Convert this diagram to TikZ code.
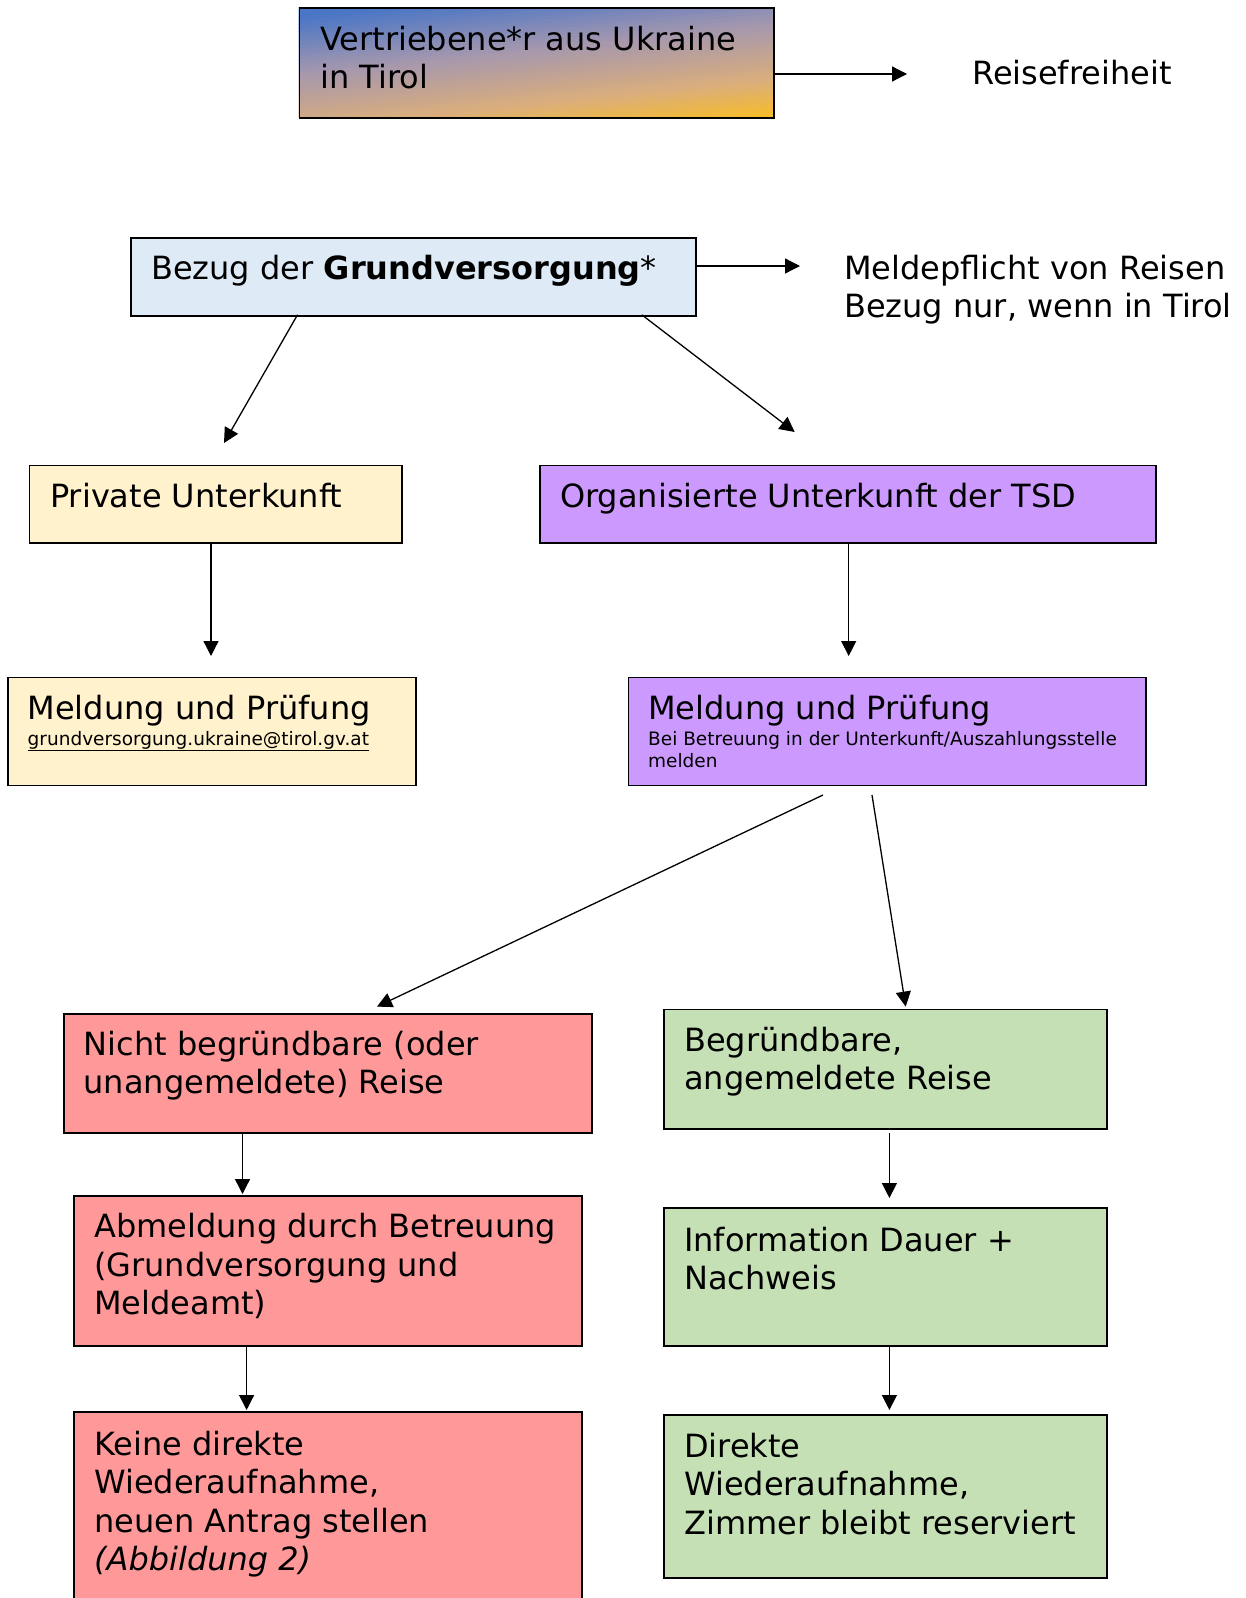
\documentclass[tikz,border=0pt]{standalone}
\usepackage{fontspec}
\setmainfont{DejaVu Sans}
\usetikzlibrary{arrows.meta}
\newcommand\bigf{\fontsize{32}{38.5}\selectfont}
\newcommand\smallf{\fontsize{18.5}{22.4}\selectfont}
\definecolor{gA}{HTML}{4A76C6}
\definecolor{gM}{HTML}{A597AE}
\definecolor{gT}{HTML}{DBAE7C}
\definecolor{gG}{HTML}{FFC010}
\definecolor{bezugC}{HTML}{DEEAF6}
\definecolor{privC}{HTML}{FFF2CC}
\definecolor{purpC}{HTML}{CC99FF}
\definecolor{redC}{HTML}{FF9999}
\definecolor{greenC}{HTML}{C5E0B4}
% gradient segment: s0, s1, colour A, colour B
\newcommand\gradseg[4]{%
  \foreach \i in {0,...,15} {
    \pgfmathsetmacro\ya{-79.65+159.3*(#1+(#2-#1)*\i/16)}
    \pgfmathsetmacro\yb{\ya+159.3*(#2-#1)/16+0.8}
    \pgfmathtruncatemacro\pc{100*(\i+0.5)/16}
    \fill[#4!\pc!#3] (-400,\ya) rectangle (400,\yb);
  }%
}
\tikzset{
  boxline/.style={draw=black, line width=1.8pt},
  txt/.style={inner sep=0pt, anchor=base west, align=left, font=\bigf},
  smalltxt/.style={inner sep=0pt, anchor=base west, align=left, font=\smallf},
  conn/.style={line width=1.3pt, -{Triangle[length=15pt, width=15pt]}},
}
\begin{document}
\begin{tikzpicture}[x=1pt, y=-1pt]
\useasboundingbox (0,0) rectangle (1245,1598);

% top gradient box
\begin{scope}
  \clip (298.5,7) rectangle (773,117);
  \begin{scope}[shift={(635.75,62)}, rotate=6]
    \fill[gA] (-400,-200) rectangle (400,-79.2);
    \fill[gG] (-400,79.2) rectangle (400,200);
    \gradseg{0}{0.35}{gA}{gM}
    \gradseg{0.35}{0.7}{gM}{gT}
    \gradseg{0.7}{1.0}{gT}{gG}
  \end{scope}
\end{scope}
\node[boxline, inner sep=0pt, minimum width=474.5pt, minimum height=110pt, anchor=north west] (top) at (298.5,7) {};
\node[txt] (toptxt) at (320,88.5) {Vertriebene*r aus Ukraine\\in Tirol};
\node[txt] (reise) at (972,84) {Reisefreiheit};
\coordinate (topE) at (773,74);
\coordinate (reiseA) at (907,74);
\draw[conn] (topE) -- (reiseA);

% Bezug
\node[boxline, fill=bezugC, inner sep=0pt, minimum width=564.4pt, minimum height=77.4pt, anchor=north west] (bezug) at (130.4,237.4) {};
\node[txt] (bezugtxt) at (151,279) {Bezug der \textbf{Grundversorgung}*};
\node[txt] (melde) at (844,317.5) {Meldepflicht von Reisen\\Bezug nur, wenn in Tirol};
\coordinate (meldeA) at (800,266);
\coordinate (bezugE) at (694.8,266);
\draw[conn] (bezugE) -- (meldeA);

% Private / Organisierte
\node[boxline, fill=privC, inner sep=0pt, minimum width=372.9pt, minimum height=77.4pt, anchor=north west] (priv) at (28.5,464.6) {};
\node[txt] (privtxt) at (50,507) {Private Unterkunft};
\node[boxline, fill=purpC, inner sep=0pt, minimum width=616.3pt, minimum height=77.4pt, anchor=north west] (org) at (539,464.6) {};
\node[txt] (orgtxt) at (560,507) {Organisierte Unterkunft der TSD};

\coordinate (b1s) at (297.5,314.8);
\coordinate (b1e) at (224,443);
\coordinate (b2s) at (641.8,314.8);
\coordinate (b2e) at (794.7,432);
\draw[conn] (b1s) -- (b1e);
\draw[conn] (b2s) -- (b2e);

% Meldung boxes
\node[boxline, fill=privC, inner sep=0pt, minimum width=407.6pt, minimum height=108pt, anchor=north west] (meld1) at (7.1,676.5) {};
\node[txt] (meld1t) at (27.5,719) {Meldung und Prüfung};
\node[smalltxt] (meld1m) at (27.5,745) {\underline{grundversorgung.ukraine@tirol.gv.at}};
\node[boxline, fill=purpC, inner sep=0pt, minimum width=517.5pt, minimum height=108pt, anchor=north west] (meld2) at (627.6,676.5) {};
\node[txt] (meld2t) at (648,719) {Meldung und Prüfung};
\node[smalltxt] (meld2m) at (648,767.4) {Bei Betreuung in der Unterkunft/Auszahlungsstelle\\melden};

\coordinate (p1s) at (211,542);
\coordinate (p1e) at (211,656);
\coordinate (p2s) at (848.7,542);
\coordinate (p2e) at (848.7,656);
\draw[conn] (p1s) -- (p1e);
\draw[conn] (p2s) -- (p2e);

% split arrows
\coordinate (m1s) at (823,795);
\coordinate (m1e) at (377,1006.6);
\coordinate (m2s) at (872,795);
\coordinate (m2e) at (905.7,1006.6);
\draw[conn] (m1s) -- (m1e);
\draw[conn] (m2s) -- (m2e);

% red column
\node[boxline, fill=redC, inner sep=0pt, minimum width=527.7pt, minimum height=119.3pt, anchor=north west] (red1) at (63.2,1012.7) {};
\node[txt] (red1t) at (83.5,1093.5) {Nicht begründbare (oder\\unangemeldete) Reise};
\node[boxline, fill=redC, inner sep=0pt, minimum width=507.3pt, minimum height=149.8pt, anchor=north west] (red2) at (73.4,1195) {};
\node[txt] (red2t) at (94,1314.6) {Abmeldung durch Betreuung\\(Grundversorgung und\\Meldeamt)};
\node[boxline, fill=redC, inner sep=0pt, minimum width=507.3pt, minimum height=220pt, anchor=north west] (red3) at (73.4,1411) {};
\node[txt] (red3t) at (94,1570.5) {Keine direkte\\Wiederaufnahme,\\neuen Antrag stellen\\\textit{(Abbildung 2)}};

\coordinate (r1s) at (242.5,1132);
\coordinate (r1e) at (242.5,1194);
\coordinate (r2s) at (246.6,1344.8);
\coordinate (r2e) at (246.6,1410);
\draw[conn] (r1s) -- (r1e);
\draw[conn] (r2s) -- (r2e);

% green column
\node[boxline, fill=greenC, inner sep=0pt, minimum width=443.1pt, minimum height=119.2pt, anchor=north west] (green1) at (663.3,1008.6) {};
\node[txt] (green1t) at (684,1089.5) {Begründbare,\\angemeldete Reise};
\node[boxline, fill=greenC, inner sep=0pt, minimum width=443.1pt, minimum height=137.5pt, anchor=north west] (green2) at (663.3,1207.3) {};
\node[txt] (green2t) at (684,1289.5) {Information Dauer +\\Nachweis};
\node[boxline, fill=greenC, inner sep=0pt, minimum width=443.1pt, minimum height=163pt, anchor=north west] (green3) at (663.3,1414) {};
\node[txt] (green3t) at (684,1534) {Direkte\\Wiederaufnahme,\\Zimmer bleibt reserviert};

\coordinate (g1s) at (889.4,1133);
\coordinate (g1e) at (889.4,1198);
\coordinate (g2s) at (889.4,1344.8);
\coordinate (g2e) at (889.4,1410);
\draw[conn] (g1s) -- (g1e);
\draw[conn] (g2s) -- (g2e);
\end{tikzpicture}
\end{document}
